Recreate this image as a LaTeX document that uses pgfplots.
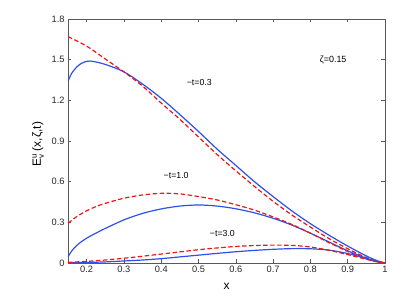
\documentclass[border=0pt]{standalone}
\usepackage{fontspec}
\setmainfont{Liberation Sans}
\usepackage{amsmath}
\usepackage{pgfplots}
\pgfplotsset{compat=1.18}
\definecolor{mblue}{RGB}{45,80,235}
\definecolor{mred}{RGB}{240,20,20}
\begin{document}
\begin{tikzpicture}
\path[use as bounding box] (-68bp,-37bp) rectangle (341bp,263bp);
\begin{axis}[
  scale only axis, width=317bp, height=244bp,
  xmin=0.15, xmax=1, ymin=0, ymax=1.8,
  xtick={0.2,0.3,0.4,0.5,0.6,0.7,0.8,0.9,1},
  xticklabels={0.2,0.3,0.4,0.5,0.6,0.7,0.8,0.9,1},
  ytick={0,0.3,0.6,0.9,1.2,1.5,1.8},
  yticklabels={0,0.3,0.6,0.9,1.2,1.5,1.8},
  tick align=inside, major tick length=3.5bp,
  axis line style={black!65, line width=0.6pt},
  every tick/.style={black!65, line width=0.5pt},
  ticklabel style={font=\fontsize{9.3}{11}\selectfont, text=black!85},
  xlabel={x},
  label style={font=\fontsize{12}{14}\selectfont},
  xlabel style={yshift=-3bp},
  clip=true,
]
% -t=0.3 blue
\addplot[mblue, line width=1.2pt, smooth] coordinates {
(0.15,1.34)(0.16,1.40)(0.175,1.45)(0.19,1.478)(0.21,1.49)(0.25,1.465)(0.3,1.41)(0.35,1.32)(0.4,1.215)(0.45,1.095)(0.5,0.97)(0.55,0.84)(0.6,0.72)(0.65,0.60)(0.7,0.49)(0.75,0.385)(0.8,0.29)(0.85,0.205)(0.9,0.125)(0.95,0.052)(0.98,0.016)(1.0,0)};
\addplot[mred, line width=1.2pt, dash pattern=on 4.5bp off 2.5bp, smooth] coordinates {
(0.15,1.67)(0.2,1.60)(0.25,1.505)(0.3,1.41)(0.35,1.305)(0.4,1.18)(0.45,1.06)(0.5,0.93)(0.55,0.80)(0.6,0.68)(0.65,0.565)(0.7,0.455)(0.75,0.355)(0.8,0.265)(0.85,0.18)(0.9,0.105)(0.95,0.04)(0.98,0.012)(1.0,0)};
% -t=1.0
\addplot[mblue, line width=1.2pt, smooth] coordinates {
(0.15,0.046)(0.162,0.096)(0.18,0.145)(0.2,0.183)(0.224,0.219)(0.25,0.255)(0.3,0.318)(0.35,0.366)(0.4,0.399)(0.45,0.42)(0.5,0.428)(0.55,0.42)(0.6,0.40)(0.65,0.37)(0.7,0.33)(0.75,0.28)(0.8,0.22)(0.85,0.155)(0.9,0.09)(0.95,0.035)(0.98,0.01)(1.0,0)};
\addplot[mred, line width=1.2pt, dash pattern=on 4.5bp off 2.5bp, smooth] coordinates {
(0.15,0.293)(0.175,0.345)(0.2,0.385)(0.224,0.415)(0.25,0.44)(0.3,0.478)(0.35,0.502)(0.4,0.514)(0.45,0.51)(0.5,0.49)(0.55,0.465)(0.6,0.43)(0.65,0.39)(0.7,0.34)(0.75,0.285)(0.8,0.22)(0.85,0.15)(0.9,0.085)(0.95,0.03)(0.98,0.008)(1.0,0)};
% -t=3.0
\addplot[mblue, line width=1.2pt, smooth] coordinates {
(0.15,0.002)(0.2,0.004)(0.25,0.008)(0.3,0.015)(0.35,0.022)(0.4,0.032)(0.45,0.045)(0.5,0.058)(0.55,0.071)(0.6,0.083)(0.65,0.093)(0.7,0.101)(0.75,0.106)(0.8,0.105)(0.85,0.095)(0.9,0.07)(0.95,0.033)(0.98,0.01)(1.0,0)};
\addplot[mred, line width=1.2pt, dash pattern=on 4.5bp off 2.5bp, smooth] coordinates {
(0.15,0.005)(0.2,0.012)(0.25,0.022)(0.3,0.035)(0.35,0.05)(0.4,0.066)(0.45,0.082)(0.5,0.098)(0.55,0.111)(0.6,0.122)(0.65,0.129)(0.7,0.132)(0.75,0.13)(0.8,0.118)(0.85,0.094)(0.9,0.062)(0.95,0.027)(0.98,0.008)(1.0,0)};
\node[font=\fontsize{9}{10}\selectfont] at (axis cs:0.861,1.497) {ζ=0.15};
\node[font=\fontsize{8.8}{10}\selectfont] at (axis cs:0.502,1.335) {−t=0.3};
\node[font=\fontsize{8.8}{10}\selectfont] at (axis cs:0.44,0.649) {−t=1.0};
\node[font=\fontsize{8.8}{10}\selectfont] at (axis cs:0.564,0.221) {−t=3.0};
\end{axis}
\node[rotate=90, font=\fontsize{12}{14}\selectfont] at (-30bp,119bp) {E$^{\text{u}}_{\text{v}}$\,(x,ζ,t)};
\end{tikzpicture}
\end{document}
